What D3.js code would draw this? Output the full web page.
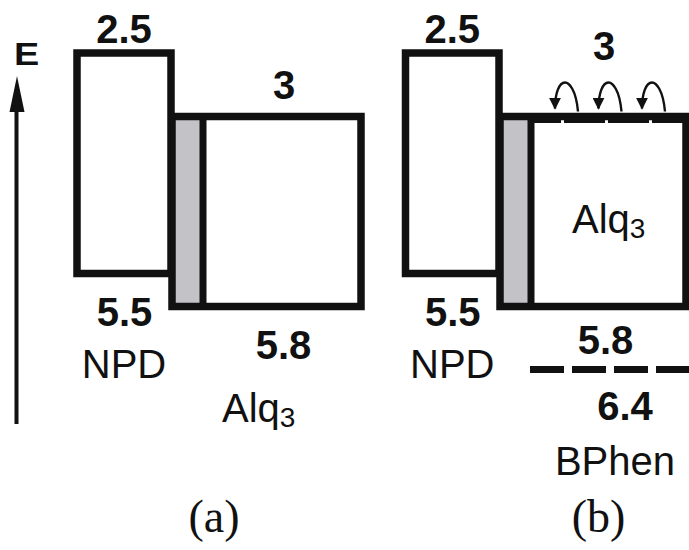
<!DOCTYPE html>
<html>
<head>
<meta charset="utf-8">
<script src="https://cdn.jsdelivr.net/npm/d3@7"></script>
<style>
  html, body { margin: 0; padding: 0; background: #fff; }
  svg { display: block; }
</style>
</head>
<body>
<script>
// Energy levels in eV (vacuum level at top)
const materials = ["NPD", "Alq3"];
const lumo = [2.5, 3.0];
const homo = [5.5, 5.8];
const bphenLumo = 3.0;
const bphenHomo = 6.4;
const panelLabels = ["(a)", "(b)"];
const hops = [0, 1, 2];

const W = 689, H = 550;
const svg = d3.select("body").append("svg")
  .attr("width", W).attr("height", H)
  .style("font-family", "'Liberation Sans', Arial, sans-serif");

// Schematic energy axis: piecewise linear between the labelled levels
const levels = Array.from(new Set([...lumo, ...homo, bphenLumo, bphenHomo])).sort(d3.ascending);
const y = d3.scaleLinear().domain(levels).range([53, 116.5, 273.5, 306.5, 369.5]);

// Horizontal layout of the two panels (box edges at stroke centre)
const layout = [
  { npd: [77, 171], alq: [172, 361], grey: 31 },
  { npd: [405.5, 499], alq: [500, 686], grey: 31 }
];
const SW = 7.5;
const ink = "#111";
const greyFill = "#c3c2c7";

const fmt = d => d3.format(".1f")(d).replace(/\.0$/, "");

// Energy arrow on the left
svg.append("line")
  .attr("x1", 16.5).attr("x2", 16.5)
  .attr("y1", 424).attr("y2", 100)
  .attr("stroke", ink).attr("stroke-width", 4);
svg.append("path")
  .attr("d", "M17,76 L9.5,112 L24.5,112 Z")
  .attr("fill", ink);
svg.append("text")
  .attr("transform", "translate(14,65) scale(1.22,1)")
  .attr("font-size", 31).attr("font-weight", "bold")
  .attr("fill", ink).text("E");

// Arrowhead marker for the hopping arrows
svg.append("defs").append("marker")
  .attr("id", "hop-head")
  .attr("viewBox", "0 0 10 10")
  .attr("refX", 9).attr("refY", 5)
  .attr("markerUnits", "userSpaceOnUse")
  .attr("markerWidth", 12).attr("markerHeight", 12)
  .attr("orient", "auto")
  .append("path").attr("d", "M0,0 L10,5 L0,10 Z").attr("fill", ink);

layout.forEach((L, p) => {
  const g = svg.append("g");

  // Alq3 block with grey interface strip
  g.append("rect")
    .attr("x", L.alq[0]).attr("y", y(lumo[1]))
    .attr("width", L.grey).attr("height", y(homo[1]) - y(lumo[1]))
    .attr("fill", greyFill);
  g.append("rect")
    .attr("x", L.alq[0]).attr("y", y(lumo[1]))
    .attr("width", L.alq[1] - L.alq[0]).attr("height", y(homo[1]) - y(lumo[1]))
    .attr("fill", "none").attr("stroke", ink).attr("stroke-width", SW);
  g.append("line")
    .attr("x1", L.alq[0] + L.grey).attr("x2", L.alq[0] + L.grey)
    .attr("y1", y(lumo[1])).attr("y2", y(homo[1]))
    .attr("stroke", ink).attr("stroke-width", 7);

  // NPD block
  g.append("rect")
    .attr("x", L.npd[0]).attr("y", y(lumo[0]))
    .attr("width", L.npd[1] - L.npd[0]).attr("height", y(homo[0]) - y(lumo[0]))
    .attr("fill", "#fff").attr("stroke", ink).attr("stroke-width", SW);

  const npdC = (L.npd[0] + L.npd[1]) / 2;
  const num = (x, yy, t) => g.append("text")
    .attr("x", x).attr("y", yy).attr("text-anchor", "middle")
    .attr("font-size", 40).attr("font-weight", "bold").attr("fill", ink).text(t);
  const word = (x, yy, t, anchor) => g.append("text")
    .attr("x", x).attr("y", yy).attr("text-anchor", anchor || "middle")
    .attr("font-size", 40).attr("fill", ink).text(t);
  const alqLabel = (x, yy) => {
    const t = g.append("text").attr("x", x).attr("y", yy)
      .attr("font-size", 40).attr("fill", ink);
    t.append("tspan").text("Alq");
    t.append("tspan").attr("font-size", 28).attr("dy", 5).text("3");
  };

  num(npdC, y(lumo[0]) - 10, fmt(lumo[0]));
  num(npdC + 0.5, y(homo[0]) + 52, fmt(homo[0]));
  word(npdC, y(homo[0]) + 104.5, materials[0]);

  if (p === 0) {
    num(284, y(lumo[1]) - 17.5, fmt(lumo[1]));
    num(283.5, y(homo[1]) + 52.5, fmt(homo[1]));
    alqLabel(222, y(homo[1]) + 115.5);
  } else {
    // BPhen levels drawn as dashed lines over the Alq3 block
    const bx0 = L.alq[0] + L.grey - 3;
    g.append("line")
      .attr("x1", bx0).attr("x2", W + 4)
      .attr("y1", y(bphenLumo) + 3).attr("y2", y(bphenLumo) + 3)
      .attr("stroke", ink).attr("stroke-width", 7)
      .attr("stroke-dasharray", "41,3").attr("stroke-dashoffset", 8);
    g.append("line")
      .attr("x1", bx0 + 2).attr("x2", W + 4)
      .attr("y1", y(bphenHomo)).attr("y2", y(bphenHomo))
      .attr("stroke", ink).attr("stroke-width", 7)
      .attr("stroke-dasharray", "34,8");

    // Electron hopping along the BPhen LUMO
    const hx = d3.scalePoint().domain(hops).range([565, 652]);
    const base = y(bphenLumo) - 5;
    g.selectAll("path.hop").data(hops).join("path")
      .attr("class", "hop")
      .attr("d", d => {
        const c = hx(d);
        return `M${c + 13},${base} C${c + 11},${base - 22} ${c + 4},${base - 29} ${c},${base - 29}` +
               ` C${c - 6},${base - 29} ${c - 10},${base - 18} ${c - 10},${base - 3}`;
      })
      .attr("fill", "none").attr("stroke", ink).attr("stroke-width", 2.4)
      .attr("marker-end", "url(#hop-head)");

    num(604, y(bphenLumo) - 56.5, fmt(bphenLumo));
    alqLabel(572, 233);
    num(605.5, y(homo[1]) + 47.5, fmt(homo[1]));
    num(625, y(bphenHomo) + 50.5, fmt(bphenHomo));
    word(615, y(bphenHomo) + 105.5, "BPhen");
  }

  g.append("text")
    .attr("x", p === 0 ? 214 : 598.5).attr("y", 532)
    .attr("text-anchor", "middle")
    .attr("font-family", "'Liberation Serif', 'Times New Roman', serif")
    .attr("font-size", 46).attr("fill", ink)
    .text(panelLabels[p]);
});
</script>
</body>
</html>
